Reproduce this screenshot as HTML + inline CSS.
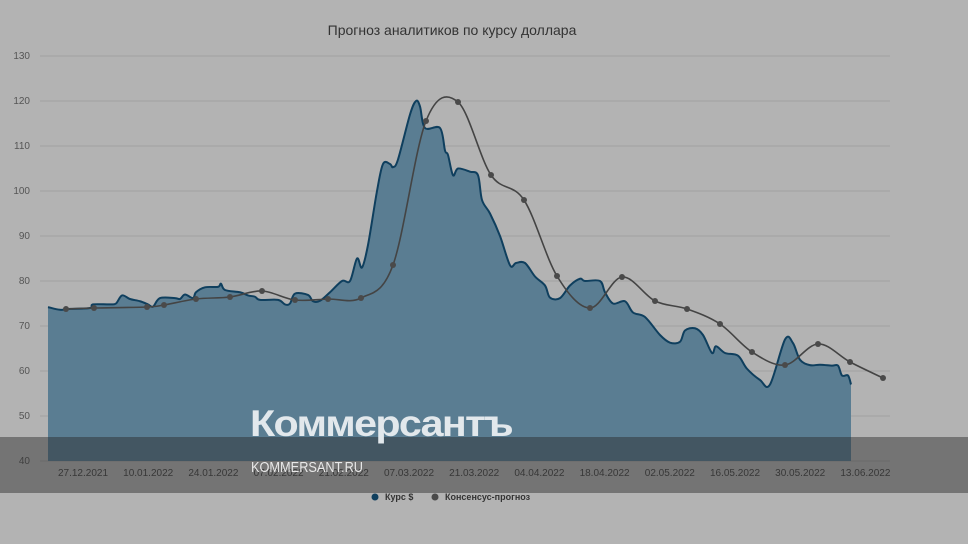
<!DOCTYPE html>
<html><head><meta charset="utf-8"><style>
body{margin:0;width:968px;height:544px;background:#b3b3b3;overflow:hidden;font-family:"Liberation Sans",sans-serif}
svg{position:absolute;left:0;top:0}
</style></head><body>
<svg width="968" height="544" xmlns="http://www.w3.org/2000/svg">
<text x="452" y="35" text-anchor="middle" font-size="14" fill="#333">Прогноз аналитиков по курсу доллара</text>
<g id="grid" stroke="#a0a0a0" stroke-width="1"></g>
<g id="ylab" font-size="10" fill="#555" text-anchor="end"></g>
<path id="area" fill="#5a7d92" stroke="none"/>
<path id="line" fill="none" stroke="#0f3f5e" stroke-width="2"/>
<path id="fc" fill="none" stroke="#444" stroke-width="1.6"/>
<g id="dots" fill="#4a4a4a"></g>
<g id="xlab" font-size="10" fill="#444" text-anchor="middle"></g>
<rect x="0" y="437" width="968" height="56" fill="rgba(40,40,40,0.45)"/>
<text x="250" y="436" font-size="37" font-weight="bold" fill="#e2e8ec" letter-spacing="-1.5" textLength="262" lengthAdjust="spacingAndGlyphs">Коммерсантъ</text>
<text x="251" y="472" font-size="15" fill="#e8e8e8" textLength="112" lengthAdjust="spacingAndGlyphs">KOMMERSANT.RU</text>
<circle cx="375" cy="497" r="3.5" fill="#0f3f5e"/>
<text x="385" y="500" font-size="9" font-weight="bold" fill="#333">Курс $</text>
<circle cx="435" cy="497" r="3.5" fill="#4a4a4a"/>
<text x="445" y="500" font-size="9" font-weight="bold" fill="#333">Консенсус-прогноз</text>
</svg>
<script>
function Y(v){return 461-(v-40)*4.5;}
var g=document.getElementById('grid'),yl=document.getElementById('ylab'),h='',t='';
for(var v=40;v<=130;v+=10){var y=Y(v);h+='<line x1="40" x2="890" y1="'+y+'" y2="'+y+'"/>';t+='<text x="30" y="'+(y+3)+'">'+v+'</text>';}
g.innerHTML=h;yl.innerHTML=t;
var dates=["27.12.2021","10.01.2022","24.01.2022","07.02.2022","21.02.2022","07.03.2022","21.03.2022","04.04.2022","18.04.2022","02.05.2022","16.05.2022","30.05.2022","13.06.2022"];
t='';dates.forEach(function(d,i){t+='<text x="'+(83+i*65.2)+'" y="476">'+d+'</text>';});
document.getElementById('xlab').innerHTML=t;
var s=[[48,74.2],[60,73.6],[70,73.8],[90,74],[93,74.8],[110,74.8],[116,75],[122,76.8],[130,76],[140,75.5],[148,74.8],[153,74.3],[160,76.2],[175,76.2],[180,76],[185,77],[193,76.2],[196,77.5],[205,78.6],[218,78.7],[221,79.4],[225,78],[240,77.5],[248,76.8],[255,76.5],[260,75.8],[278,75.8],[285,74.8],[290,75],[295,77.2],[308,76.9],[313,75.5],[320,75.6],[330,77.5],[342,80],[350,80],[357,85],[362,83],[368,88],[377,100],[383,106],[390,106],[393,105.3],[398,107],[410,117],[416,120],[420,118.8],[425,114],[440,114],[445,109],[448,108],[453,103.5],[458,105],[470,104.3],[478,103.5],[482,98],[490,95],[500,90],[510,83.5],[516,84],[525,84],[535,81],[545,79],[550,76.3],[560,76.2],[570,79],[580,80.5],[585,80],[600,80],[605,77.5],[613,75],[625,75.5],[633,73],[645,72],[660,68],[670,66.3],[680,66.5],[685,69],[695,69.5],[703,68],[712,64],[716,65.5],[725,64],[738,63.4],[747,60.5],[760,58],[770,57],[785,67],[793,66.2],[800,62.5],[810,61.3],[820,61.4],[832,61.2],[838,61.2],[842,59],[848,59],[851,57]];
function smooth(p){var d='M'+p[0][0]+','+p[0][1];for(var i=0;i<p.length-1;i++){var p0=p[i-1]||p[i],p1=p[i],p2=p[i+1],p3=p[i+2]||p2;
d+=' C'+(p1[0]+(p2[0]-p0[0])/6)+','+(p1[1]+(p2[1]-p0[1])/6)+' '+(p2[0]-(p3[0]-p1[0])/6)+','+(p2[1]-(p3[1]-p1[1])/6)+' '+p2[0]+','+p2[1];}return d;}
var sp=s.map(function(a){return [a[0],Y(a[1])];});
var ld=smooth(sp);
document.getElementById('line').setAttribute('d',ld);
document.getElementById('area').setAttribute('d',ld+' L851,461 L48,461 Z');
var f=[[66,309],[94,308],[147,307],[164,305],[196,299],[230,297],[262,291],[295,300],[328,299],[361,298],[393,265],[426,121],[458,102],[491,175],[524,200],[557,276],[590,308],[622,277],[655,301],[687,309],[720,324],[752,352],[785,365],[818,344],[850,362],[883,378]];
document.getElementById('fc').setAttribute('d',smooth(f));
t='';f.forEach(function(p){t+='<circle cx="'+p[0]+'" cy="'+p[1]+'" r="3"/>';});
document.getElementById('dots').innerHTML=t;
</script>
</body></html>
